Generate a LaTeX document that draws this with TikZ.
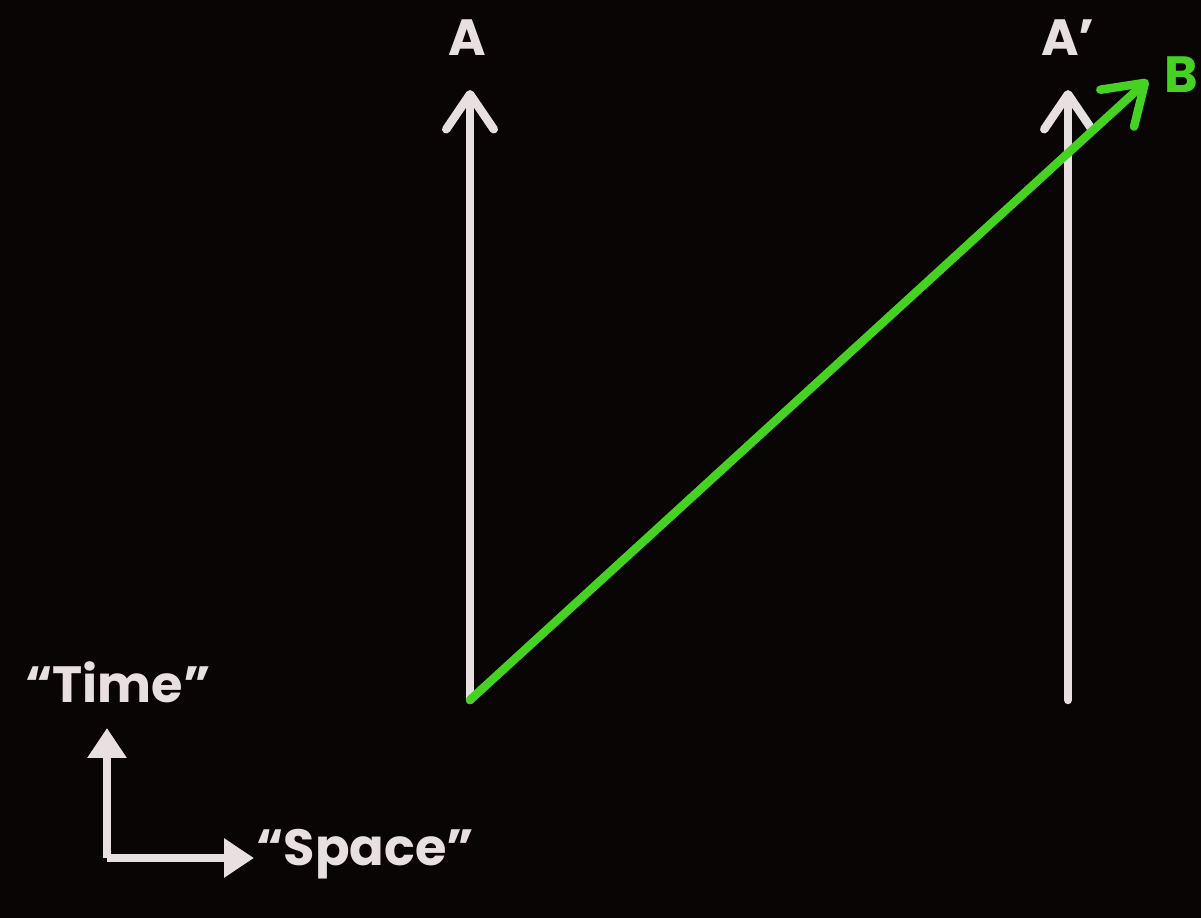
\documentclass[tikz,border=0pt]{standalone}
\usepackage{fontspec}
\setmainfont{Poppins}
\usetikzlibrary{arrows.meta, positioning}
\definecolor{board}{RGB}{10,5,5}
\definecolor{chalk}{RGB}{232,224,224}
\definecolor{signal}{RGB}{70,210,35}

\begin{document}
\begin{tikzpicture}[x=0.02cm, y=-0.02cm,
  every node/.style={inner sep=0pt},
  lbl/.style={font=\fontsize{29}{29}\selectfont\bfseries, color=chalk},
  worldline/.style={chalk, line width=0.17cm, line cap=round,
                    -{Straight Barb[length=0.7cm, width=0.95cm, round]}},
  ray/.style={signal, line width=0.17cm, line cap=round,
              -{Straight Barb[length=0.75cm, width=1.0cm, round]}},
  axis/.style={chalk, line width=0.16cm,
               -{Triangle[length=0.6cm, width=0.75cm]}}]
\fill[board] (0,0) rectangle (1201,918);
\useasboundingbox (0,0) rectangle (1201,918);
% world lines of A and A'
\coordinate (a0) at (470,700);
\coordinate (a1) at (470,90);
\coordinate (b0) at (1068,700);
\coordinate (b1) at (1068,90);
\draw[worldline] (a0) -- (a1);
\draw[worldline] (b0) -- (b1);
\node[lbl] (labA) at (467,38) {A};
\node[lbl] (labAp) at (1068,38) {A'};
% signal from A to B
\coordinate (s1) at (1148,80);
\draw[ray] (a0) -- (s1);
\node[lbl, color=signal, anchor=west] (labB) at (1164,75) {B};
% axes
\coordinate (o) at (107,858);
\coordinate (t1) at (107,728);
\coordinate (x1) at (254,858);
\draw[axis] (o) -- (t1);
\draw[axis] (o) -- (x1);
\node[lbl] (time) at (118,682) {``Time''};
\node[lbl, anchor=west] (space) at (256,854) {``Space''};
\end{tikzpicture}
\end{document}
